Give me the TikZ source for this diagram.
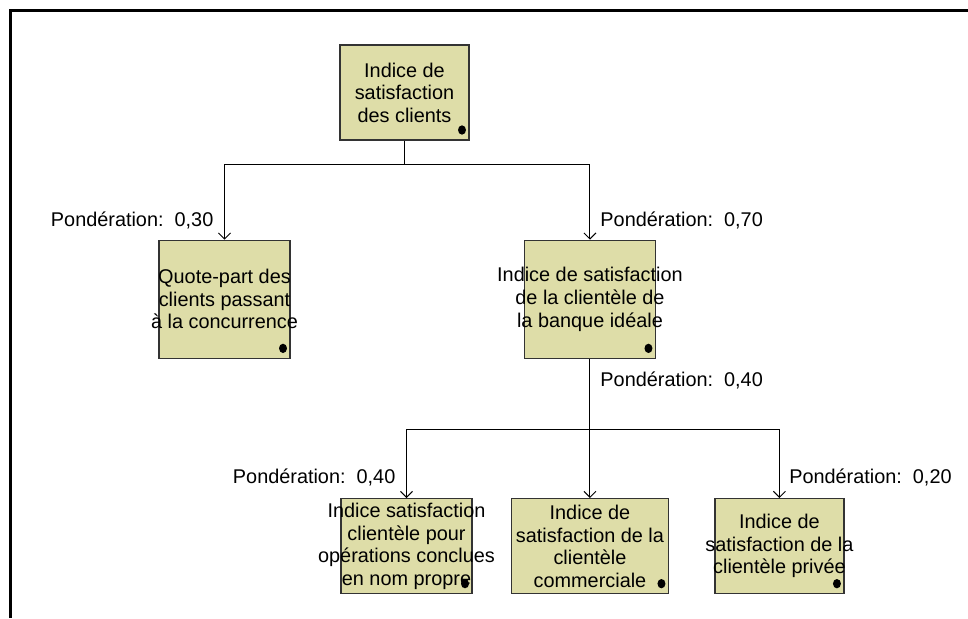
\documentclass[tikz,border=0pt]{standalone}
\usepackage{fontspec}
\setmainfont{Liberation Sans}
\usetikzlibrary{positioning,arrows.meta}
\definecolor{khaki}{HTML}{DEDDA8}
\definecolor{edge}{HTML}{333333}

\begin{document}
\begin{tikzpicture}[
    x=0.75pt, y=-0.75pt,
    font=\fontsize{14.9pt}{16.9pt}\selectfont,
    box/.style={draw=edge, line width=1pt, fill=khaki, inner sep=0pt,
                minimum width=98.25pt, minimum height=88.5pt,
                path picture={\fill[black] ([xshift=-5.25pt,yshift=7.5pt]path picture bounding box.south east)
                              ellipse (3pt and 3.5pt);}},
    boxtext/.style={align=center, inner sep=0pt},
    wt/.style={inner sep=0pt},
    link/.style={line width=0.75pt},
    arrow/.style={-{Straight Barb[length=4.5pt,width=9pt]}, line width=0.75pt},
  ]
    \useasboundingbox (0,0) rectangle (968,618);
    \draw[line width=2.25pt] (10.8,618) -- (10.8,10.8) -- (968,10.8);

    \node[box, minimum width=96.75pt, minimum height=71.25pt,
          label={[boxtext]center:Indice de\\satisfaction\\des clients}] (root) at (404.5,92.5) {};
    \node[box, below=74.25pt of root, xshift=-135pt,
          label={[boxtext]center:Quote-part des\\clients passant\\à la concurrence}] (share) {};
    \node[box, below=74.25pt of root, xshift=139.1pt,
          label={[boxtext]center:Indice de satisfaction\\de la clientèle de\\la banque idéale}] (ideal) {};
    \node[box, minimum height=71.25pt, below=104.25pt of ideal, xshift=-137.6pt,
          label={[boxtext]center:Indice satisfaction\\clientèle pour\\opérations conclues\\en nom propre}] (own) {};
    \node[box, minimum width=117.75pt, minimum height=71.25pt, below=104.25pt of ideal,
          label={[boxtext]center:Indice de\\satisfaction de la\\clientèle\\commerciale}] (comm) {};
    \node[box, minimum width=96.75pt, minimum height=71.25pt, below=104.25pt of ideal, xshift=142.1pt,
          label={[boxtext]center:Indice de\\satisfaction de la\\clientèle privée}] (priv) {};

    \coordinate[below=18pt of root] (fork1);
    \coordinate[below=52.5pt of ideal] (fork2);

    \draw[link] (root) -- (fork1);
    \draw[arrow] (fork1) -| node[wt, pos=0.87, left=8pt] (w1) {Pondération:\ \ 0,30} (share);
    \draw[arrow] (fork1) -| node[wt, pos=0.87, right=7.5pt] (w2) {Pondération:\ \ 0,70} (ideal);
    \draw[link] (ideal) -- node[wt, pos=0.3, right=7.5pt] (w3) {Pondération:\ \ 0,40} (fork2);
    \draw[arrow] (fork2) -| node[wt, pos=0.85, left=8pt] (w4) {Pondération:\ \ 0,40} (own);
    \draw[arrow] (fork2) -- (comm);
    \draw[arrow] (fork2) -| node[wt, pos=0.85, right=7pt] (w5) {Pondération:\ \ 0,20} (priv);
  \end{tikzpicture}
\end{document}
